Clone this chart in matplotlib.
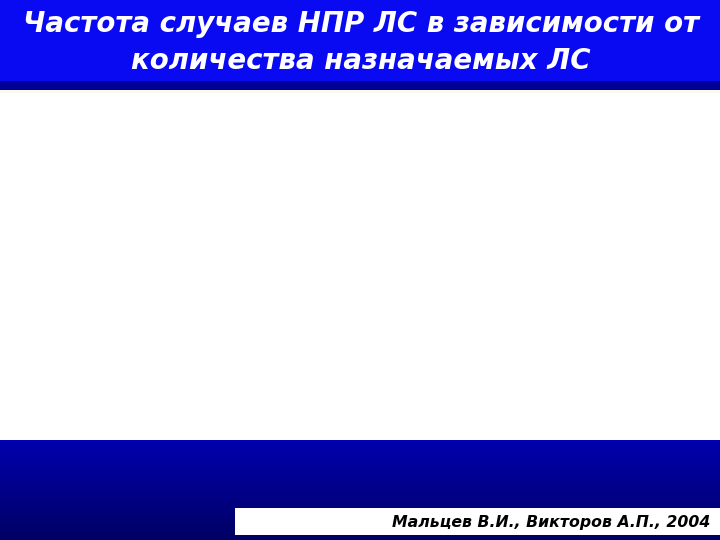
import matplotlib
matplotlib.use("Agg")
import matplotlib.pyplot as plt
import numpy as np
from matplotlib.patches import Rectangle
from matplotlib.colors import LinearSegmentedColormap

title_lines = ["Частота случаев НПР ЛС в зависимости от", "количества назначаемых ЛС"]
citation = "Мальцев В.И., Викторов А.П., 2004"

plt.rcParams['font.family'] = ['DejaVu Sans']

fig = plt.figure(figsize=(7.2, 5.4), dpi=100)
ax = fig.add_axes([0, 0, 1, 1])
fig.patch.set_facecolor('white')

# header
ax.add_patch(Rectangle((0, 0), 720, 81, facecolor='#0A0AF2', edgecolor='none'))
ax.add_patch(Rectangle((0, 81), 720, 9, facecolor='#000099', edgecolor='none'))
ax.add_patch(Rectangle((0, 90), 720, 3, facecolor='#FBFAEE', edgecolor='none'))

# bottom gradient
grad = np.linspace(0, 1, 100).reshape(-1, 1)
cmap = LinearSegmentedColormap.from_list('g', ['#0000AE', '#000064'])
ax.imshow(grad, cmap=cmap, extent=[0, 720, 540, 440], aspect='auto', zorder=1)
ax.set_xlim(0, 720)
ax.set_ylim(540, 0)
ax.axis('off')

ax.add_patch(Rectangle((235, 508), 485, 27, facecolor='white', edgecolor='none', zorder=2))

ax.text(361, 24, title_lines[0], color='white', fontsize=19.9, fontweight='bold',
        fontstyle='italic', ha='center', va='center', zorder=3)
ax.text(361, 61, title_lines[1], color='white', fontsize=19.9, fontweight='bold',
        fontstyle='italic', ha='center', va='center', zorder=3)
ax.text(710, 522, citation, color='black', fontsize=11.3, fontweight='bold',
        fontstyle='italic', ha='right', va='center', zorder=3)

fig.savefig('out.png', dpi=100)
